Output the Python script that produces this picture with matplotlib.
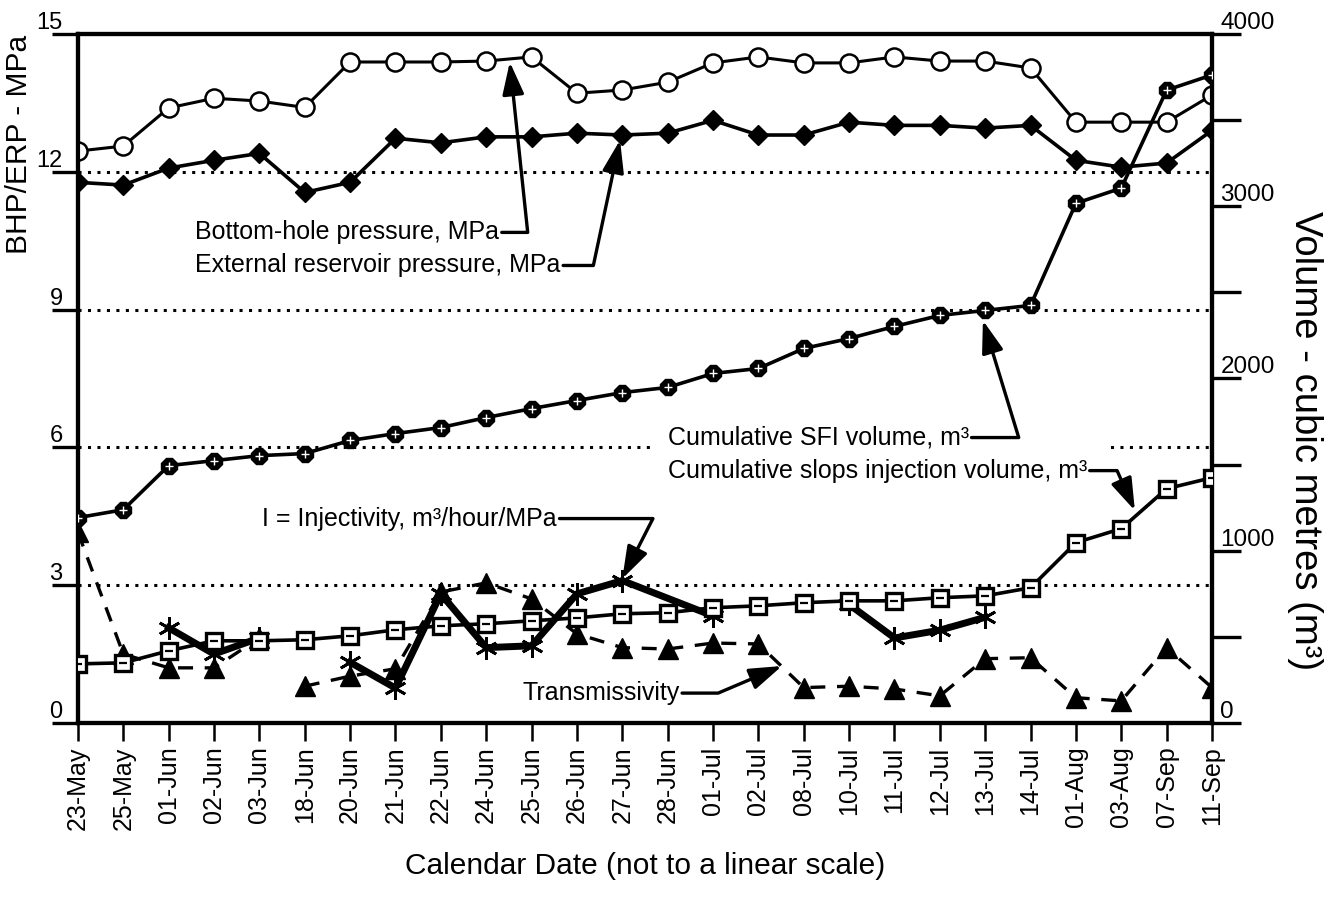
import numpy as np
import matplotlib.pyplot as plt
from matplotlib.patches import Rectangle
from matplotlib.ticker import MultipleLocator, FixedLocator

plt.rcParams['font.family'] = ['Liberation Sans', 'DejaVu Sans']

# ---- data ----
dates = ['23-May', '25-May', '01-Jun', '02-Jun', '03-Jun', '18-Jun', '20-Jun', '21-Jun',
         '22-Jun', '24-Jun', '25-Jun', '26-Jun', '27-Jun', '28-Jun', '01-Jul', '02-Jul',
         '08-Jul', '10-Jul', '11-Jul', '12-Jul', '13-Jul', '14-Jul', '01-Aug', '03-Aug',
         '07-Sep', '11-Sep']

# left axis, MPa
bhp = [12.45, 12.56, 13.39, 13.60, 13.54, 13.40, 14.39, 14.39, 14.39, 14.41, 14.50, 13.71, 13.78,
       13.95, 14.37, 14.50, 14.37, 14.37, 14.50, 14.41, 14.41, 14.26, 13.08, 13.08, 13.08, 13.67]
erp = [11.77, 11.71, 12.08, 12.25, 12.40, 11.55, 11.77, 12.73, 12.63, 12.76, 12.76, 12.84, 12.80,
       12.84, 13.12, 12.80, 12.80, 13.08, 13.01, 13.01, 12.95, 13.01, 12.25, 12.10, 12.19, 12.90]
transmissivity = [4.15, 1.50, 1.20, 1.20, 1.85, 0.80, 1.02, 1.18, 2.85, 3.05, 2.70, 1.94, 1.64,
                  1.61, 1.74, 1.72, 0.77, 0.80, 0.74, 0.59, 1.40, 1.42, 0.55, 0.48, 1.64, 0.77]
trans_segments = [('23-May', '03-Jun'), ('18-Jun', '11-Sep')]

# injectivity only measured on some dates (None = break in the line)
inj_dates = ['01-Jun', '02-Jun', '03-Jun', None, '20-Jun', '21-Jun', '22-Jun', '24-Jun', '25-Jun',
             '26-Jun', '27-Jun', '01-Jul', None, '10-Jul', '11-Jul', '12-Jul', '13-Jul']
inj_vals = [2.07, 1.50, 1.85, None, 1.32, 0.76, 2.81, 1.64, 1.68, 2.81, 3.10, 2.33, None,
            2.58, 1.85, 2.02, 2.30]

# right axis, m3
sfi_volume = [1192, 1238, 1494, 1523, 1552, 1564, 1640, 1680, 1715, 1773, 1825, 1872, 1918,
              1948, 2029, 2058, 2174, 2232, 2302, 2366, 2395, 2424, 3017, 3105, 3674, 3762]
slops_volume = [343, 349, 419, 477, 477, 483, 506, 541, 564, 576, 593, 610, 634,
                640, 669, 680, 698, 709, 709, 727, 738, 785, 1047, 1128, 1360, 1424]

x = np.arange(len(dates))
inj_x = np.array([dates.index(d) if d else np.nan for d in inj_dates])
inj_y = np.array([v if v is not None else np.nan for v in inj_vals], dtype=float)

fig = plt.figure(figsize=(13.37, 9.01), dpi=100)
ax = fig.add_axes([0.0583, 0.1976, 0.8482, 0.7647])
ax2 = ax.twinx()

# dotted reference lines
for g in [3, 6, 9, 12]:
    ax.axhline(g, color='black', lw=2.2, linestyle=(0, (1, 2.1)), zorder=1)

# pressures
ax.plot(x, bhp, color='black', lw=2.2, marker='o', ms=13, mfc='white', mec='black', mew=1.8, zorder=3)
ax.plot(x, erp, color='black', lw=2.6, marker='D', ms=10, mfc='black', mec='black', zorder=3)

# transmissivity (dashed, filled triangles)
for a, b in trans_segments:
    i0, i1 = dates.index(a), dates.index(b) + 1
    ax.plot(x[i0:i1], transmissivity[i0:i1], color='black', lw=2.4, linestyle=(0, (4.5, 3.5)), zorder=3)
ax.plot(x, transmissivity, linestyle='none', marker='^', ms=15, color='black', zorder=4)

# injectivity (heavy line with asterisks)
ax.plot(inj_x, inj_y, color='black', lw=5, marker=(6, 2, 0), ms=16, mew=2, zorder=5)

# volumes on right axis
ax2.plot(x, sfi_volume, color='black', lw=2.6, marker='8', ms=13, mfc='black', mec='black', zorder=3)
ax2.plot(x, sfi_volume, linestyle='none', marker='+', ms=6, mew=1, color='white', zorder=4)
ax2.plot(x, slops_volume, color='black', lw=2.6, marker='s', ms=12, mfc='white', mec='black',
         mew=2.4, zorder=3)
ax2.plot(x, slops_volume, linestyle='none', marker='_', ms=6, mew=1.6, color='black', zorder=4)

# axes limits and ticks
ax.set_xlim(0, len(dates) - 1)
ax.set_ylim(0, 15)
ax2.set_ylim(0, 4000)
ax.set_xticks(x)
ax.set_xticklabels(dates, rotation=90, fontsize=18)
ax.tick_params(axis='x', direction='out', length=13, width=1.8, pad=4)

ax.set_yticks([0, 3, 6, 9, 12, 15])
ax.tick_params(axis='y', direction='out', length=19, width=2.4, labelsize=17, pad=-8)
for lab in ax.get_yticklabels():
    lab.set_va('bottom')

ax2.yaxis.set_major_locator(MultipleLocator(1000))
ax2.yaxis.set_minor_locator(FixedLocator([500, 1500, 2500, 3500]))
ax2.tick_params(axis='y', which='both', direction='out', length=21, width=2.4, labelsize=17.5, pad=-15)
for lab in ax2.get_yticklabels():
    lab.set_va('bottom')

for a_ in (ax, ax2):
    for s in a_.spines.values():
        s.set_linewidth(3)

ax.set_xlabel('Calendar Date (not to a linear scale)', fontsize=21.5, labelpad=16)
ax.set_ylabel('BHP/ERP - MPa', fontsize=21.5)
ax.yaxis.set_label_coords(-0.0397, 0.84)
ax2.set_ylabel('Volume - cubic metres (m³)', fontsize=27.5, rotation=270, va='bottom')
ax2.yaxis.set_label_coords(1.066, 0.41)

arrow = dict(arrowstyle='-|>,head_length=0.9,head_width=0.3', color='black', lw=2.4,
             mutation_scale=22, shrinkA=0, shrinkB=0)
tsize = 18

ax.annotate('Bottom-hole pressure, MPa', xy=(9.52, 14.39), xytext=(2.58, 10.68),
            fontsize=tsize, va='center', ha='left',
            arrowprops=dict(arrow, relpos=(1, 0.5), connectionstyle='angle,angleA=0,angleB=-84,rad=0'))
ax.annotate('External reservoir pressure, MPa', xy=(11.95, 12.69), xytext=(2.58, 9.96),
            fontsize=tsize, va='center', ha='left',
            arrowprops=dict(arrow, relpos=(1, 0.5), connectionstyle='angle,angleA=0,angleB=78,rad=0'))
ax.annotate('I = Injectivity, m³/hour/MPa', xy=(12.0, 3.14), xytext=(4.06, 4.45),
            fontsize=tsize, va='center', ha='left',
            arrowprops=dict(arrow, relpos=(1, 0.5), connectionstyle='angle,angleA=0,angleB=63,rad=0'))
ax.annotate('Transmissivity', xy=(15.52, 1.24), xytext=(9.79, 0.65),
            fontsize=tsize, va='center', ha='left',
            arrowprops=dict(arrow, relpos=(1, 0.5), connectionstyle='angle,angleA=0,angleB=23,rad=0'))

# white patch behind the volume labels (hides the 6 MPa dotted line there)
ax2.add_patch(Rectangle((12.6, 1480), 10.15, 260, facecolor='white', edgecolor='none', zorder=2))
ax2.annotate('Cumulative SFI volume, m³', xy=(19.95, 2337), xytext=(13.0, 1657),
             fontsize=tsize, va='center', ha='left', zorder=5,
             arrowprops=dict(arrow, relpos=(1, 0.5), connectionstyle='angle,angleA=0,angleB=-73,rad=0'))
ax2.annotate('Cumulative slops injection volume, m³', xy=(23.3, 1233), xytext=(13.0, 1465),
             fontsize=tsize, va='center', ha='left', zorder=5,
             arrowprops=dict(arrow, relpos=(1, 0.5), connectionstyle='angle,angleA=0,angleB=114,rad=0'))

fig.savefig('out.png', dpi=100)
